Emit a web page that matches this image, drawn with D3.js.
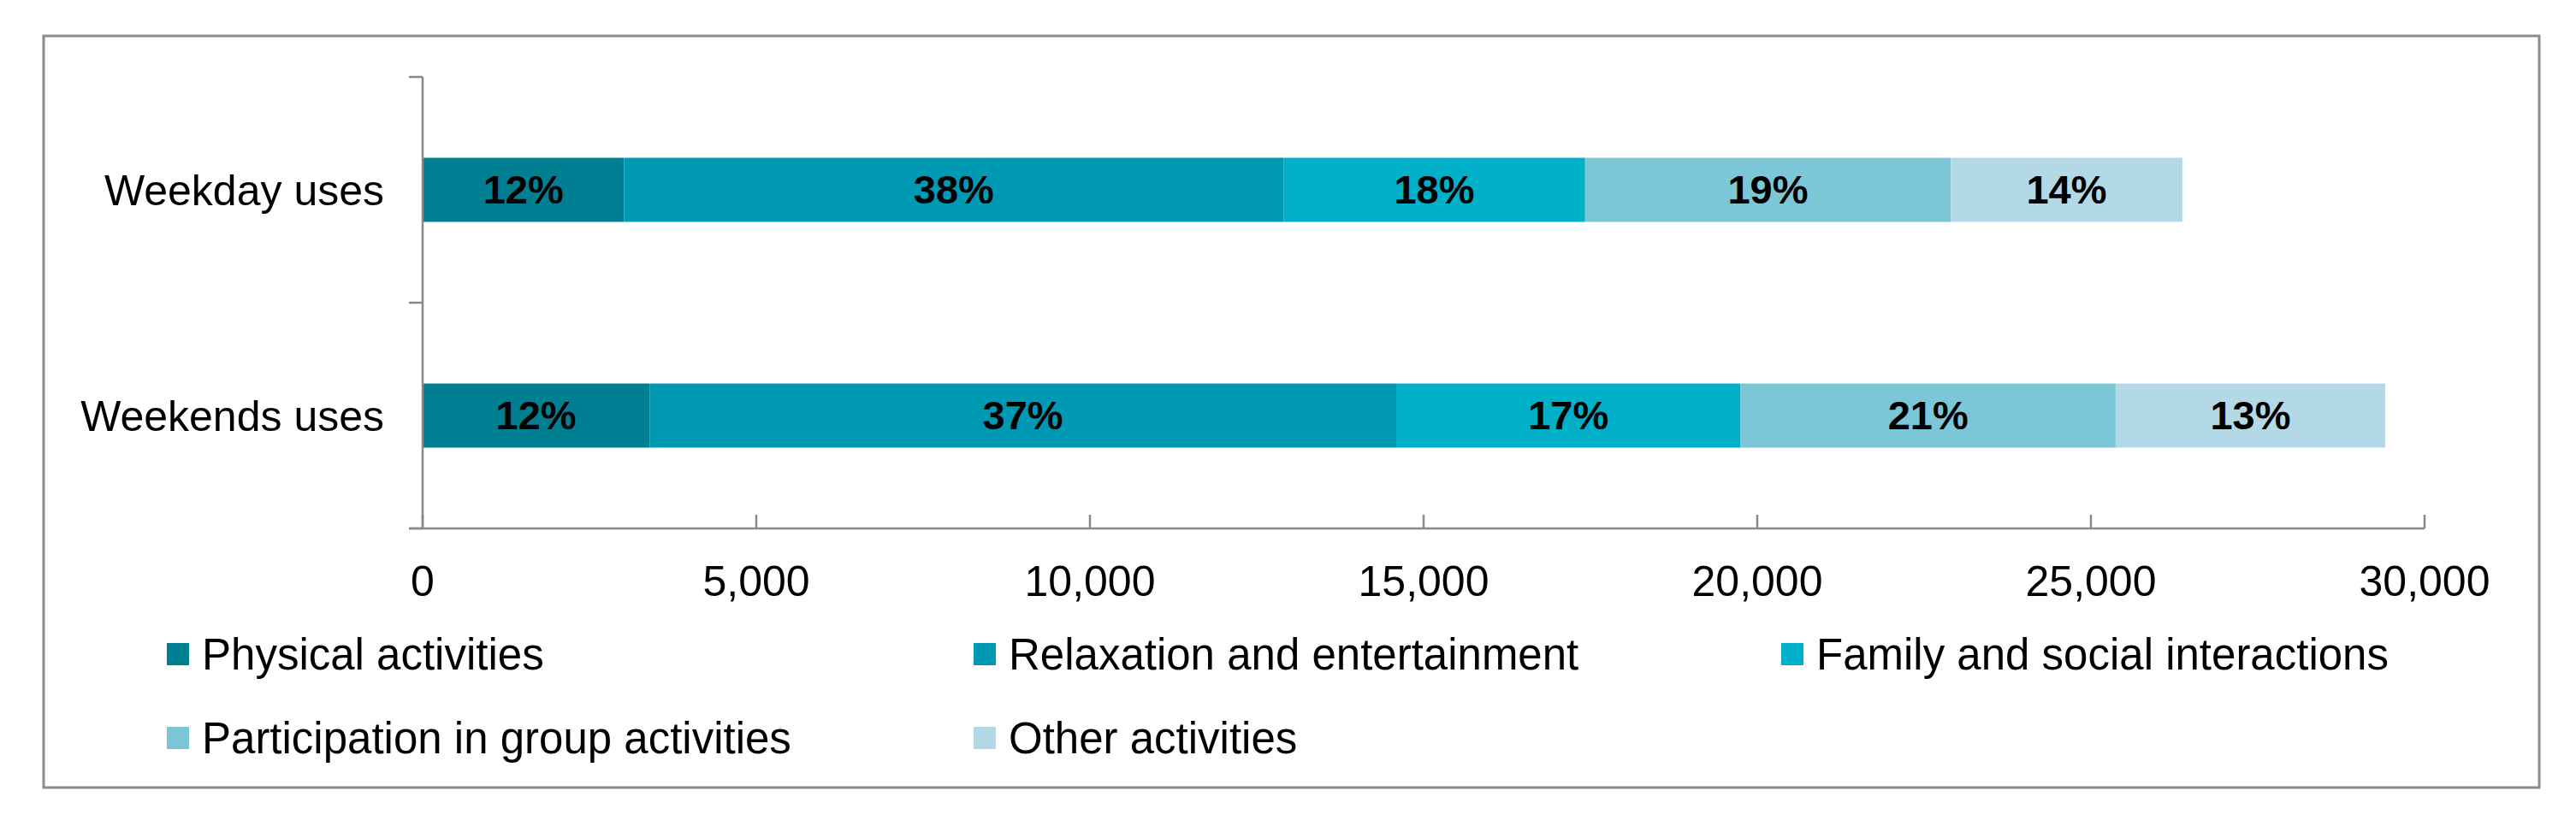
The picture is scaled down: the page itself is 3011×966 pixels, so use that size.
<!DOCTYPE html>
<html>
<head>
<meta charset="utf-8">
<script src="https://cdn.jsdelivr.net/npm/d3@7.9.0/dist/d3.min.js"></script>
<style>
  html, body { margin: 0; padding: 0; background: #fff; }
  svg text { font-family: "Liberation Sans", Arial, sans-serif; }
</style>
</head>
<body>
<div id="chart"></div>
<script>
// data
const categories = ['Weekday uses', 'Weekends uses'];
const activities = [
  'Physical activities',
  'Relaxation and entertainment',
  'Family and social interactions',
  'Participation in group activities',
  'Other activities'
];
const weekdayValues = [3020, 9880, 4520, 5480, 3470];
const weekendValues = [3400, 11190, 5160, 5620, 4040];
const weekdayLabels = ['12%', '38%', '18%', '19%', '14%'];
const weekendLabels = ['12%', '37%', '17%', '21%', '13%'];
const xTicks = [0, 5000, 10000, 15000, 20000, 25000, 30000];
const colors = ['#007F93', '#0099B3', '#00B0C9', '#7BC6D7', '#B3D9E6'];

const W = 3011, H = 966;
const margin = { left: 494, right: 3011 - 2834, top: 90, bottom: 966 - 618 };

const svg = d3.select('#chart')
  .append('svg')
  .attr('width', W)
  .attr('height', H);

svg.append('rect')
  .attr('x', 51).attr('y', 42)
  .attr('width', 2968 - 51).attr('height', 921 - 42)
  .attr('fill', '#fff')
  .attr('stroke', '#8c8c8c')
  .attr('stroke-width', 3);

const rows = categories.map((c, i) => {
  const r = { cat: c };
  const vals = i === 0 ? weekdayValues : weekendValues;
  activities.forEach((a, j) => { r[a] = vals[j]; });
  return r;
});
const labels = [weekdayLabels, weekendLabels];

const x = d3.scaleLinear()
  .domain([0, 30000])
  .range([margin.left, W - margin.right]);

const y = d3.scaleBand()
  .domain(categories)
  .range([margin.top, H - margin.bottom])
  .paddingInner(0.716)
  .paddingOuter(0.358);

const yGrid = d3.scaleBand()
  .domain(categories)
  .range([margin.top, H - margin.bottom]);

const series = d3.stack().keys(activities)(rows);

// bars
const g = svg.append('g');
series.forEach((s, j) => {
  g.selectAll(null)
    .data(s)
    .join('rect')
    .attr('x', d => x(d[0]))
    .attr('y', d => y(d.data.cat))
    .attr('width', d => x(d[1]) - x(d[0]))
    .attr('height', y.bandwidth())
    .attr('fill', colors[j]);

  g.selectAll(null)
    .data(s)
    .join('text')
    .attr('x', d => (x(d[0]) + x(d[1])) / 2)
    .attr('y', d => y(d.data.cat) + y.bandwidth() / 2 + 16)
    .attr('text-anchor', 'middle')
    .attr('font-size', 47)
    .attr('font-weight', 'bold')
    .attr('fill', '#000')
    .text((d, i) => labels[i][j]);
});

// y axis
const yAxis = svg.append('g');
yAxis.append('line')
  .attr('x1', x(0)).attr('x2', x(0))
  .attr('y1', margin.top).attr('y2', H - margin.bottom)
  .attr('stroke', '#898989').attr('stroke-width', 2.5);
const yTickPos = categories.map(c => yGrid(c)).concat([H - margin.bottom]);
yAxis.selectAll('line.tick')
  .data(yTickPos)
  .join('line')
  .attr('class', 'tick')
  .attr('x1', x(0) - 16).attr('x2', x(0))
  .attr('y1', d => d).attr('y2', d => d)
  .attr('stroke', '#898989').attr('stroke-width', 2.5);
yAxis.selectAll('text')
  .data(categories)
  .join('text')
  .attr('x', x(0) - 45)
  .attr('y', d => y(d) + y.bandwidth() / 2 + 18)
  .attr('text-anchor', 'end')
  .attr('font-size', 50)
  .attr('fill', '#000')
  .text(d => d);

// x axis
const xAxis = svg.append('g');
xAxis.append('line')
  .attr('x1', x(0) - 16).attr('x2', x(30000))
  .attr('y1', H - margin.bottom).attr('y2', H - margin.bottom)
  .attr('stroke', '#898989').attr('stroke-width', 2.5);
xAxis.selectAll('line.tick')
  .data(xTicks)
  .join('line')
  .attr('class', 'tick')
  .attr('x1', d => x(d)).attr('x2', d => x(d))
  .attr('y1', H - margin.bottom - 16).attr('y2', H - margin.bottom)
  .attr('stroke', '#898989').attr('stroke-width', 2.5);
xAxis.selectAll('text')
  .data(xTicks)
  .join('text')
  .attr('x', d => x(d))
  .attr('y', 697)
  .attr('text-anchor', 'middle')
  .attr('font-size', 50)
  .attr('fill', '#000')
  .text(d => d3.format(',')(d));

// legend
const legendPos = [[195, 765], [1138, 765], [2082, 765], [195, 863], [1138, 863]];
const legend = svg.append('g')
  .selectAll('g')
  .data(activities)
  .join('g')
  .attr('transform', (d, i) => `translate(${legendPos[i][0]},${legendPos[i][1]})`);
legend.append('rect')
  .attr('x', 0).attr('y', -13)
  .attr('width', 26).attr('height', 26)
  .attr('fill', (d, i) => colors[i]);
legend.append('text')
  .attr('x', 41).attr('y', 18)
  .attr('font-size', 51)
  .attr('fill', '#000')
  .text(d => d);
</script>
</body>
</html>
